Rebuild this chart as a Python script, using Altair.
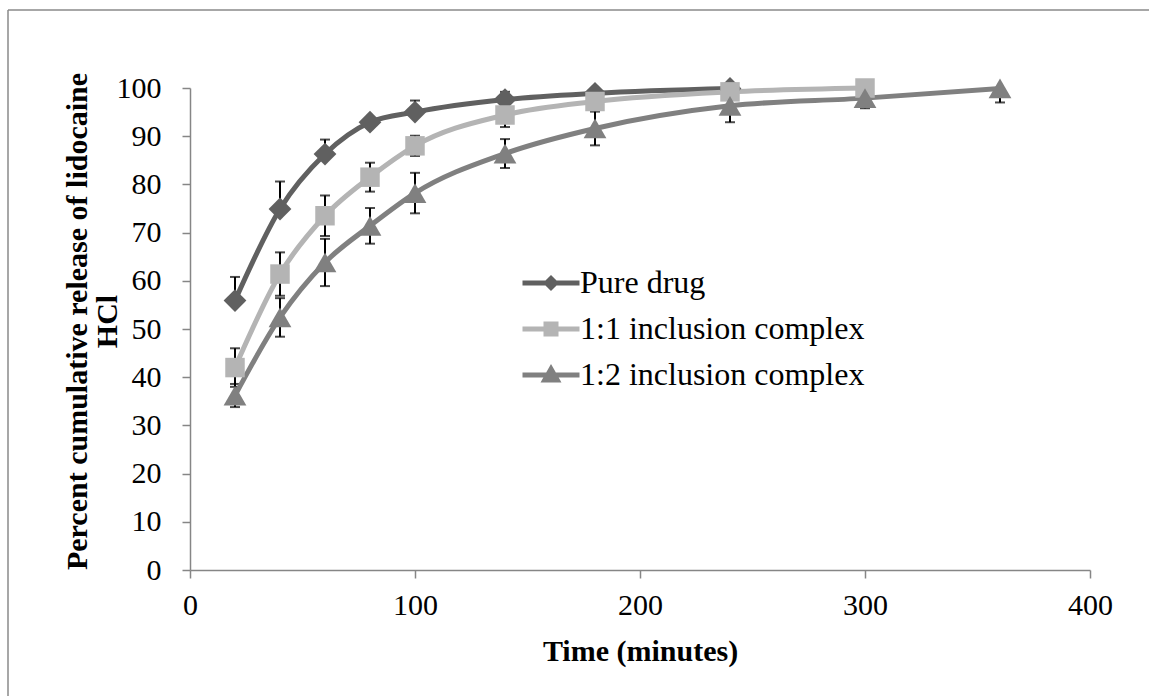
import altair as alt
import pandas as pd

# ---- data ----
series_names = ["Pure drug", "1:1 inclusion complex", "1:2 inclusion complex"]

time_pure = [20, 40, 60, 80, 100, 140, 180, 240]
pure = [55.9, 74.9, 86.3, 92.9, 95.0, 97.6, 98.9, 99.9]
pure_err = [4.9, 5.7, 3.0, 1.0, 2.4, 1.6, 1.0, 0.5]

time_11 = [20, 40, 60, 80, 100, 140, 180, 240, 300]
c11 = [42.0, 61.4, 73.5, 81.5, 88.0, 94.4, 97.2, 99.2, 100.0]
c11_err = [4.0, 4.5, 4.2, 3.0, 2.1, 2.5, 1.5, 0.8, 0.5]

time_12 = [20, 40, 60, 80, 100, 140, 180, 240, 300, 360]
c12 = [36.2, 52.4, 63.8, 71.4, 78.2, 86.4, 91.6, 96.3, 97.9, 99.9]
c12_err = [2.4, 4.0, 4.9, 3.7, 4.2, 3.0, 3.5, 3.4, 2.1, 2.9]

colors = ["#606060", "#b4b4b4", "#808080"]
shapes = ["diamond", "square", "triangle-up"]
marker_sizes = [520, 380, 520]

Y_MAX = 100  # error bars are cut at the axis maximum, as in the reference

rows = []
caps = []
for name, ts, vs, es, both in [
    (series_names[0], time_pure, pure, pure_err, False),
    (series_names[1], time_11, c11, c11_err, True),
    (series_names[2], time_12, c12, c12_err, True),
]:
    for i, (t, v, e) in enumerate(zip(ts, vs, es)):
        lo = v - e if both else v
        hi = min(v + e, Y_MAX)
        rows.append({"series": name, "time": t, "value": v,
                     "lo": lo, "hi": hi, "order": i})
        if v + e <= Y_MAX:
            caps.append({"series": name, "time": t, "cap": v + e})
        if both:
            caps.append({"series": name, "time": t, "cap": v - e})
df = pd.DataFrame(rows)
cap_df = pd.DataFrame(caps)

FONT = "Liberation Serif"

# legend glyphs: a line segment with the marker in the middle
legend_paths = [
    "M-2.85,0H2.85M0,-0.45L0.45,0L0,0.45L-0.45,0Z",
    "M-2.85,0H2.85M-0.5,-0.5H0.5V0.5H-0.5Z",
    "M-2.85,0H2.85M0,-0.6L0.62,0.5H-0.62Z",
]
# one legend row per series; no position value, so nothing is drawn on the plot
legend_df = pd.DataFrame({"key": series_names, "time": [None] * 3, "value": [None] * 3})

legend = alt.Legend(
    title=None,
    orient="none",
    legendX=345,
    legendY=179,
    padding=0,
    labelFont=FONT,
    labelFontSize=32,
    labelColor="black",
    labelLimit=600,
    symbolSize=400,
    symbolStrokeWidth=5,
    labelOffset=13,
    rowPadding=14,
)

x_enc = alt.X(
    "time:Q",
    scale=alt.Scale(domain=[0, 400], nice=False),
    axis=alt.Axis(
        values=[0, 100, 200, 300, 400],
        title="Time (minutes)",
        grid=False,
        labelFont=FONT,
        labelFontSize=30,
        labelColor="black",
        labelPadding=12,
        labelFlush=False,
        tickSize=8,
        tickColor="#868686",
        tickWidth=1.5,
        domainColor="#868686",
        domainWidth=1.5,
        titleFont=FONT,
        titleFontSize=30,
        titleFontWeight="bold",
        titleColor="black",
        titlePadding=16,
    ),
)
y_scale = alt.Scale(domain=[0, 100], nice=False)
y_axis = alt.Axis(
    values=list(range(0, 101, 10)),
    title=["Percent cumulative release of lidocaine", "HCl"],
    grid=False,
    labelFont=FONT,
    labelFontSize=30,
    labelColor="black",
    labelPadding=21,
    tickSize=8,
    tickColor="#868686",
    tickWidth=1.5,
    domainColor="#868686",
    domainWidth=1.5,
    titleFont=FONT,
    titleFontSize=30,
    titleFontWeight="bold",
    titleColor="black",
    titleLineHeight=30,
    titleAlign="center",
    titleBaseline="middle",
    titleAngle=270,
    titleX=-113,
    titleY=233,
)

base = alt.Chart(df)

err_rules = base.mark_rule(color="black", strokeWidth=2).encode(
    x=x_enc,
    y=alt.Y("lo:Q", scale=y_scale, axis=y_axis),
    y2="hi:Q",
)
err_caps = alt.Chart(cap_df).mark_tick(
    color="black", orient="horizontal", size=10, thickness=2
).encode(
    x="time:Q",
    y=alt.Y("cap:Q"),
)

line_layers = []
point_layers = []
for name, col, shp, sz in zip(series_names, colors, shapes, marker_sizes):
    sub = base.transform_filter(alt.datum.series == name)
    line_layers.append(
        sub.mark_line(strokeWidth=5, interpolate="monotone", color=col)
        .encode(x="time:Q", y=alt.Y("value:Q"), order="order:Q")
    )
    point_layers.append(
        sub.mark_point(filled=True, opacity=1, size=sz, shape=shp, color=col)
        .encode(x="time:Q", y=alt.Y("value:Q"))
    )

legend_layer = (
    alt.Chart(legend_df)
    .mark_point(filled=True, opacity=1, strokeWidth=5)
    .encode(
        x="time:Q",
        y=alt.Y("value:Q"),
        fill=alt.Fill("key:N", scale=alt.Scale(domain=series_names, range=colors), legend=legend),
        stroke=alt.Stroke("key:N", scale=alt.Scale(domain=series_names, range=colors), legend=legend),
        shape=alt.Shape("key:N", scale=alt.Scale(domain=series_names, range=legend_paths), legend=legend),
    )
)

frame_df = pd.DataFrame({"k": [0]})
frame_left = alt.Chart(frame_df).mark_rule(color="#8a8a8a", strokeWidth=1.5).encode(
    x=alt.value(-182), y=alt.value(-78), y2=alt.value(620)
)
frame_top = alt.Chart(frame_df).mark_rule(color="#8a8a8a", strokeWidth=1.5).encode(
    x=alt.value(-182), x2=alt.value(970), y=alt.value(-78)
)

chart = (
    alt.layer(err_rules, err_caps, *line_layers, *point_layers, legend_layer, frame_left, frame_top)
    .properties(
        width=900,
        height=482,
        autosize=alt.AutoSizeParams(type="none"),
        padding={"left": 190, "top": 88, "right": 59, "bottom": 126},
        background="white",
    )
    .configure_view(stroke=None)
)

chart.save("out.html", embed_options={"renderer": "svg", "actions": False})
